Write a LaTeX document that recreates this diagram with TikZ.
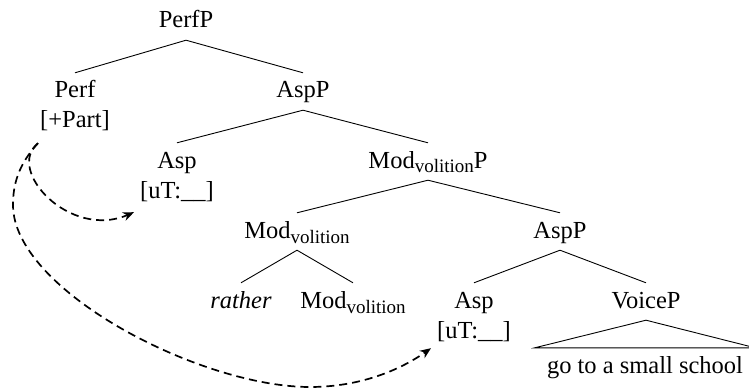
\documentclass[tikz,border=0pt]{standalone}
\usepackage{fontspec}
\setmainfont{Liberation Serif}
\usetikzlibrary{arrows.meta}
\newcommand\vsub[1]{\raisebox{-5pt}{\fontsize{19}{19}\selectfont #1}}
\begin{document}
\begin{tikzpicture}[x=1pt,y=-1pt,
  font=\fontsize{24.5}{29}\selectfont,
  lab/.style={anchor=base,text height=20pt,text depth=7pt,inner ysep=5pt,inner xsep=2pt},
  edge/.style={line width=0.9pt},
  mv/.style={line width=1.7pt,dash pattern=on 8pt off 5pt,-{Stealth[length=11pt,width=9pt]}}]
\useasboundingbox (0,0) rectangle (749,390);
% nodes
\node[lab] (perfP) at (186,28) {PerfP};
\node[lab] (perf)  at (75,98)  {Perf};
\node[lab] (perff) at (75,128) {[+Part]};
\node[lab] (aspP1) at (303,98) {AspP};
\node[lab] (asp1)  at (177,168) {Asp};
\node[lab] (asp1f) at (177,198) {[uT:\_\_]};
\node[lab] (modP)  at (428,168) {Mod\vsub{volition}P};
\node[lab] (mod)   at (297,238) {Mod\vsub{volition}};
\node[lab] (aspP2) at (560,238) {AspP};
\node[lab] (rather) at (241,308) {\itshape rather};
\node[lab] (mod2)  at (353,308) {Mod\vsub{volition}};
\node[lab] (asp2)  at (474,308) {Asp};
\node[lab] (asp2f) at (474,338) {[uT:\_\_]};
\node[lab] (voice) at (646,308) {VoiceP};
\node[lab,inner xsep=12pt] (school) at (645,373) {go to a small school};
% edges
\draw[edge] (perfP.south) -- (perf.north);
\draw[edge] (perfP.south) -- (aspP1.north);
\draw[edge] (aspP1.south) -- (asp1.north);
\draw[edge] (aspP1.south) -- (modP.north);
\draw[edge] (modP.south) -- (mod.north);
\draw[edge] (modP.south) -- (aspP2.north);
\draw[edge] (mod.south) -- (rather.north);
\draw[edge] (mod.south) -- (mod2.north);
\draw[edge] (aspP2.south) -- (asp2.north);
\draw[edge] (aspP2.south) -- (voice.north);
\draw[edge] (voice.south) -- (school.north west) -- (school.north east) -- cycle;
% movement arrows
\coordinate (st) at ([yshift=-3pt]perff.south west);
\draw[mv] (st) .. controls (5,170) and (70,240) .. ([shift={(-4pt,-2pt)}]asp1f.south west);
\draw[mv] (st) .. controls (18,165) and (13,185) .. (13,205)
  .. controls (13,290) and (200,387) .. (310,387)
  .. controls (360,387) and (400,370) .. ([shift={(-4pt,2pt)}]asp2f.south west);
\end{tikzpicture}
\end{document}
